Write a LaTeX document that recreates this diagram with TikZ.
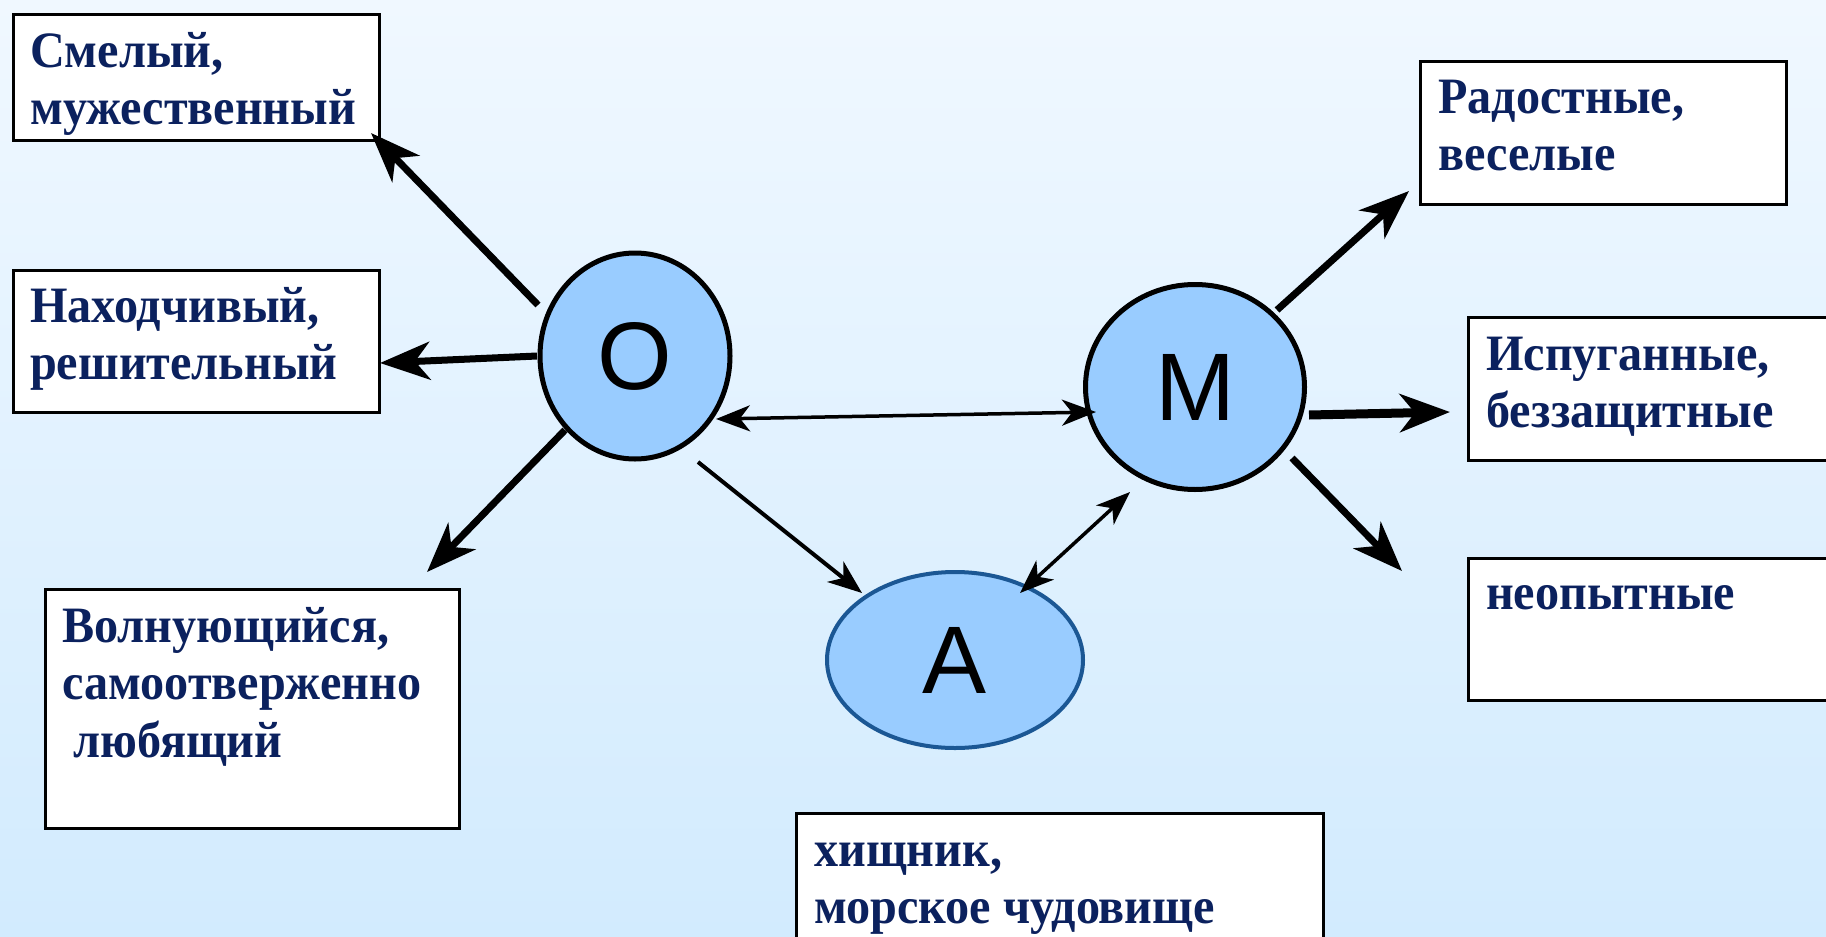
\documentclass[tikz,border=0pt]{standalone}
\usepackage{fontspec}
\setmainfont{Liberation Serif}[BoldFeatures={FakeStretch=0.945}]
\newfontfamily\lettersf{Liberation Sans}
\usetikzlibrary{shapes.geometric, arrows.meta}
\definecolor{navy}{HTML}{0B215E}
\definecolor{ellfill}{HTML}{99CCFF}
\definecolor{aedge}{HTML}{1B5794}
\definecolor{bgtop}{HTML}{F0F8FF}
\definecolor{bgbot}{HTML}{D2EBFE}
\begin{document}
\begin{tikzpicture}[x=1pt,y=-1pt,
  box/.style={draw=black, line width=2.5pt, fill=white, rectangle, inner sep=0pt, anchor=north west},
  lbl/.style={font=\fontsize{51}{57.5}\selectfont\bfseries, text=navy, align=left, anchor=north west, inner sep=0pt},
  ell/.style={ellipse, draw=black, line width=5pt, fill=ellfill, inner sep=0pt, font=\lettersf\fontsize{96}{96}\selectfont},
  bigarrow/.style={line width=7pt, -{Stealth[length=50pt, width=38pt, inset=15pt]}},
  smallarrow/.style={line width=4pt, -{Stealth[length=34pt, width=26pt, inset=10pt]}},
  duoarrow/.style={line width=3.5pt, {Stealth[length=34pt, width=26pt, inset=10pt]}-{Stealth[length=34pt, width=26pt, inset=10pt]}}
]
\useasboundingbox (0,0) rectangle (1826,937);
\clip (0,0) rectangle (1826,937);
\shade[top color=bgtop, bottom color=bgbot] (0,0) rectangle (1826,937);

% boxes
\node[box, minimum width=366pt, minimum height=126pt] (b1) at (12,13) {};
\node[box, minimum width=366pt, minimum height=142pt] (b2) at (12,269) {};
\node[box, minimum width=414pt, minimum height=239pt] (b3) at (44,588) {};
\node[box, minimum width=527pt, minimum height=200pt] (b4) at (795,812) {};
\node[box, minimum width=366pt, minimum height=143pt] (b5) at (1419,60) {};
\node[box, minimum width=400pt, minimum height=143pt] (b6) at (1467,316) {};
\node[box, minimum width=400pt, minimum height=142pt] (b7) at (1467,557) {};

% texts (north = first baseline - 50pt)
\node[lbl] (t1) at (30,17) {\rule{0pt}{50pt}Смелый,\\мужественный};
\node[lbl] (t2) at (30,272) {\rule{0pt}{50pt}Находчивый,\\решительный};
\node[lbl] (t3) at (62,592) {\rule{0pt}{50pt}Волнующийся,\\самоотверженно\\\hspace*{11pt}любящий};
\node[lbl] (t4) at (814,816) {\rule{0pt}{50pt}хищник,\\морское чудовище};
\node[lbl] (t5) at (1438,63) {\rule{0pt}{50pt}Радостные,\\веселые};
\node[lbl] (t6) at (1486,320) {\rule{0pt}{50pt}Испуганные,\\беззащитные};
\node[lbl] (t7) at (1486,559) {\rule{0pt}{50pt}неопытные};

% ellipses
\node[ell, minimum width=190pt, minimum height=206pt] (O) at (635,356) {O};
\node[ell, minimum width=219pt, minimum height=205pt] (M) at (1195,387) {M};
\node[ell, draw=aedge, line width=4pt, minimum width=256pt, minimum height=176pt] (A) at (955,660) {A};

% arrow end points
\coordinate (c1s) at (538,305); \coordinate (c1e) at (371,133);
\coordinate (c2s) at (537,356); \coordinate (c2e) at (380,363);
\coordinate (c3s) at (565,430); \coordinate (c3e) at (427,572);
\coordinate (c4s) at (698,462); \coordinate (c4e) at (862,593);
\coordinate (c5s) at (716,419); \coordinate (c5e) at (1096,412);
\coordinate (c6s) at (1020,593); \coordinate (c6e) at (1130,492);
\coordinate (c7s) at (1277,310); \coordinate (c7e) at (1409,191);
\coordinate (c8s) at (1309,415); \coordinate (c8e) at (1450,412);
\coordinate (c9s) at (1292,458); \coordinate (c9e) at (1402,571);

\draw[bigarrow] (c1s) -- (c1e);
\draw[bigarrow] (c2s) -- (c2e);
\draw[bigarrow] (c3s) -- (c3e);
\draw[smallarrow] (c4s) -- (c4e);
\draw[duoarrow] (c5s) -- (c5e);
\draw[duoarrow] (c6s) -- (c6e);
\draw[bigarrow] (c7s) -- (c7e);
\draw[bigarrow, line width=9pt] (c8s) -- (c8e);
\draw[bigarrow] (c9s) -- (c9e);
\end{tikzpicture}
\end{document}
